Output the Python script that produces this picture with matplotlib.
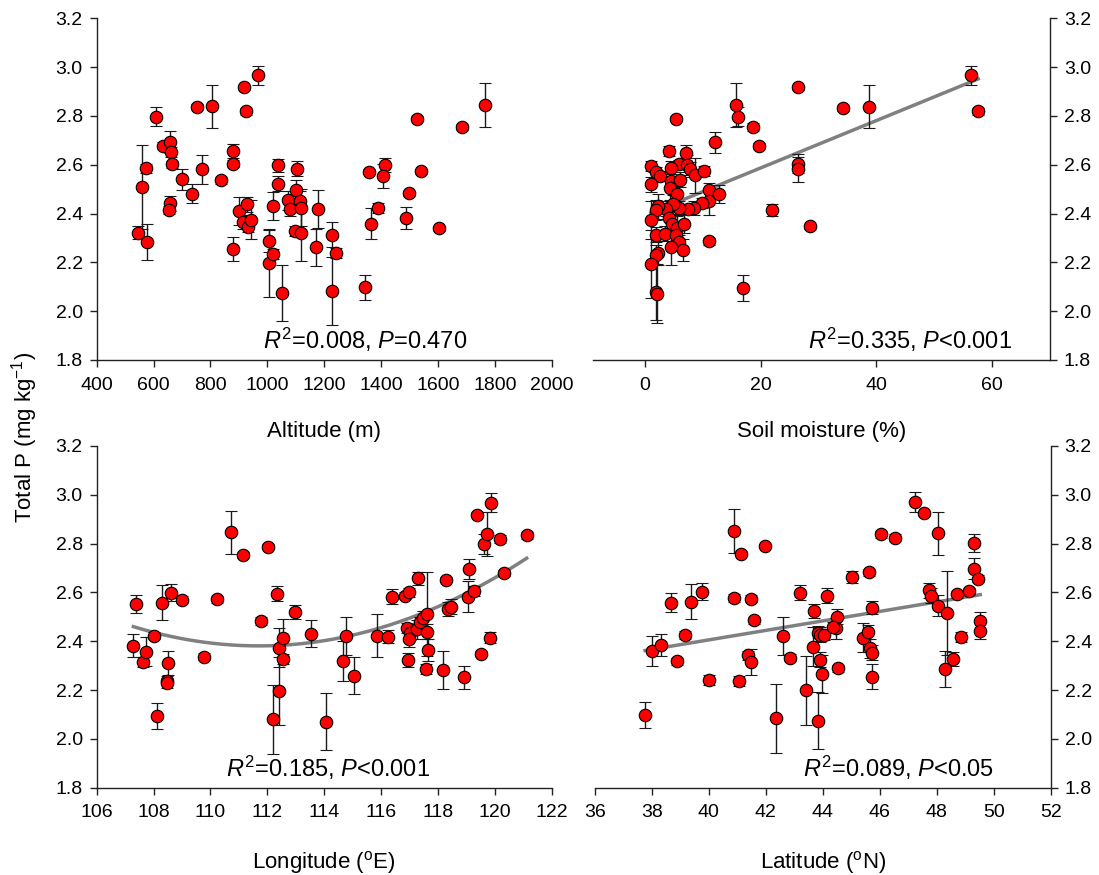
import numpy as np
import matplotlib
matplotlib.use('Agg')
import matplotlib.pyplot as plt

plt.rcParams['font.family'] = 'Liberation Sans'
plt.rcParams['mathtext.fontset'] = 'custom'
plt.rcParams['mathtext.rm'] = 'Liberation Sans'
plt.rcParams['mathtext.it'] = 'Liberation Sans:italic'
plt.rcParams['mathtext.bf'] = 'Liberation Sans:bold'

# Altitude (m) vs total P, mean +/- SE
altitude = [546, 558, 573, 578, 609, 634, 657, 661, 663, 658, 655, 699, 736, 751, 772,
            807, 838, 880, 880, 880, 917, 925, 967, 901, 913, 927, 933, 944, 1007, 1007,
            1021, 1021, 1038, 1038, 1050, 1074, 1080, 1103, 1100, 1115, 1097, 1118, 1120,
            1177, 1171, 1228, 1241, 1228, 1345, 1366, 1357, 1388, 1413, 1405, 1497, 1487,
            1528, 1542, 1604, 1685, 1767]
tp_alt = [2.322, 2.509, 2.585, 2.283, 2.797, 2.678, 2.693, 2.652, 2.601, 2.442, 2.415,
          2.540, 2.482, 2.835, 2.582, 2.839, 2.536, 2.656, 2.604, 2.254, 2.918, 2.819,
          2.966, 2.411, 2.366, 2.438, 2.346, 2.374, 2.288, 2.196, 2.431, 2.233, 2.597,
          2.522, 2.073, 2.454, 2.420, 2.584, 2.497, 2.452, 2.329, 2.322, 2.424, 2.418,
          2.261, 2.314, 2.238, 2.082, 2.097, 2.359, 2.571, 2.422, 2.599, 2.554, 2.483,
          2.382, 2.788, 2.573, 2.340, 2.755, 2.846]
se_alt = [0.027, 0.173, 0.02, 0.075, 0.039, 0.015, 0.045, 0.02, 0.015, 0.03, 0.015, 0.044,
          0.038, 0.012, 0.059, 0.088, 0.013, 0.03, 0.015, 0.048, 0.01, 0.015, 0.04, 0.058,
          0.03, 0.03, 0.02, 0.08, 0.045, 0.14, 0.056, 0.02, 0.025, 0.03, 0.115, 0.04, 0.03,
          0.03, 0.04, 0.04, 0.02, 0.115, 0.077, 0.078, 0.076, 0.053, 0.02, 0.14, 0.052,
          0.063, 0.01, 0.02, 0.03, 0.05, 0.01, 0.045, 0.01, 0.01, 0.01, 0.012, 0.09]

# Soil moisture (%)
moisture = [1.04, 1.9, 2.6, 1.04, 4.2, 5.3, 7.0, 5.9, 7.3, 4.4, 7.7, 8.6, 10.1, 4.4, 6.0,
            4.3, 5.5, 11.1, 11.1, 12.7, 9.9, 8.5, 7.5, 5.8, 4.9, 3.6, 2.3, 1.9, 0.98, 4.2,
            4.6, 5.5, 6.7, 1.9, 3.5, 5.3, 5.9, 4.5, 6.6, 2.3, 1.9, 1.04, 1.9, 2.0, 11.1,
            12.05, 15.8, 16.0, 18.7, 19.7, 22.0, 16.9, 26.5, 26.5, 26.5, 28.5, 34.2, 38.7,
            56.3, 57.6]
tp_sm = [2.596, 2.571, 2.554, 2.520, 2.656, 2.788, 2.650, 2.601, 2.599, 2.585, 2.581,
         2.556, 2.573, 2.533, 2.539, 2.505, 2.482, 2.497, 2.450, 2.480, 2.442, 2.422,
         2.420, 2.422, 2.438, 2.420, 2.429, 2.415, 2.373, 2.381, 2.356, 2.339, 2.359,
         2.313, 2.318, 2.313, 2.284, 2.261, 2.252, 2.238, 2.230, 2.193, 2.078, 2.072,
         2.286, 2.692, 2.845, 2.797, 2.755, 2.678, 2.415, 2.095, 2.917, 2.605, 2.581,
         2.347, 2.833, 2.838, 2.966, 2.819]
se_sm = [0.02, 0.02, 0.02, 0.03, 0.02, 0.01, 0.03, 0.02, 0.04, 0.03, 0.03, 0.07, 0.02,
         0.03, 0.03, 0.05, 0.04, 0.03, 0.055, 0.035, 0.02, 0.03, 0.02, 0.03, 0.04, 0.03,
         0.05, 0.04, 0.078, 0.04, 0.05, 0.05, 0.04, 0.03, 0.03, 0.05, 0.03, 0.07, 0.045,
         0.05, 0.04, 0.14, 0.115, 0.12, 0.015, 0.044, 0.09, 0.04, 0.015, 0.012, 0.025,
         0.052, 0.01, 0.04, 0.05, 0.01, 0.012, 0.088, 0.04, 0.015]

# Longitude (oE)
longitude = [107.29, 107.38, 107.64, 107.72, 108.02, 108.13, 108.31, 108.50, 108.48,
             108.48, 108.62, 108.99, 109.77, 110.22, 110.73, 111.16, 111.78, 112.01,
             112.35, 112.21, 112.41, 112.41, 112.54, 112.56, 112.99, 113.52, 114.08,
             114.65, 114.76, 115.06, 115.86, 116.25, 116.39, 116.84, 116.98, 117.30,
             116.90, 117.01, 116.99, 116.95, 117.27, 117.36, 117.48, 117.62, 117.60,
             117.66, 117.59, 118.17, 118.27, 118.36, 118.45, 118.93, 119.09, 119.05,
             119.26, 119.37, 119.51, 119.62, 119.73, 119.86, 119.82, 120.19, 120.32, 121.12]
tp_lon = [2.382, 2.554, 2.314, 2.357, 2.423, 2.094, 2.558, 2.312, 2.239, 2.230, 2.598,
          2.570, 2.337, 2.572, 2.846, 2.755, 2.483, 2.788, 2.595, 2.080, 2.195, 2.374,
          2.415, 2.327, 2.520, 2.430, 2.070, 2.319, 2.423, 2.259, 2.423, 2.419, 2.583,
          2.587, 2.600, 2.658, 2.453, 2.435, 2.408, 2.323, 2.449, 2.480, 2.494, 2.510,
          2.439, 2.364, 2.286, 2.282, 2.652, 2.532, 2.542, 2.252, 2.695, 2.583, 2.606,
          2.919, 2.348, 2.799, 2.840, 2.968, 2.415, 2.819, 2.678, 2.834]
se_lon = [0.046, 0.037, 0.02, 0.06, 0.015, 0.052, 0.072, 0.05, 0.02, 0.02, 0.035, 0.015,
          0.015, 0.015, 0.089, 0.012, 0.015, 0.01, 0.03, 0.14, 0.14, 0.08, 0.076, 0.02,
          0.027, 0.055, 0.116, 0.08, 0.078, 0.076, 0.089, 0.025, 0.03, 0.015, 0.02, 0.027,
          0.02, 0.03, 0.03, 0.027, 0.04, 0.02, 0.03, 0.172, 0.03, 0.045, 0.02, 0.078, 0.01,
          0.03, 0.03, 0.048, 0.042, 0.062, 0.02, 0.01, 0.01, 0.04, 0.089, 0.04, 0.022,
          0.015, 0.012, 0.015]

# Latitude (oN)
latitude = [37.77, 38.02, 38.32, 38.68, 38.90, 39.17, 39.39, 39.75, 40.02, 40.89, 41.13,
            40.90, 41.06, 41.38, 41.47, 41.47, 41.59, 41.98, 42.60, 42.36, 42.84, 43.19,
            43.42, 43.70, 43.66, 43.82, 43.90, 44.06, 43.82, 43.91, 43.98, 44.14, 44.49,
            44.46, 44.55, 44.37, 45.04, 45.40, 45.58, 45.61, 45.66, 45.72, 45.74, 45.74,
            46.03, 46.55, 47.25, 47.55, 47.72, 47.79, 48.06, 48.06, 48.37, 48.30, 48.57,
            48.71, 48.84, 49.12, 49.31, 49.30, 49.45, 49.53, 49.53]
tp_lat = [2.097, 2.361, 2.386, 2.558, 2.318, 2.426, 2.562, 2.602, 2.241, 2.851, 2.759,
          2.577, 2.237, 2.342, 2.316, 2.575, 2.486, 2.790, 2.420, 2.084, 2.333, 2.599,
          2.199, 2.524, 2.378, 2.432, 2.427, 2.427, 2.075, 2.325, 2.264, 2.587, 2.501,
          2.453, 2.289, 2.460, 2.662, 2.415, 2.438, 2.682, 2.371, 2.353, 2.255, 2.538,
          2.838, 2.825, 2.971, 2.924, 2.609, 2.587, 2.842, 2.546, 2.514, 2.286, 2.327,
          2.592, 2.417, 2.605, 2.803, 2.698, 2.657, 2.484, 2.443]
se_lat = [0.052, 0.062, 0.045, 0.038, 0.015, 0.015, 0.072, 0.035, 0.02, 0.089, 0.01,
          0.015, 0.02, 0.02, 0.053, 0.015, 0.015, 0.01, 0.078, 0.14, 0.015, 0.03, 0.141,
          0.028, 0.08, 0.03, 0.03, 0.02, 0.116, 0.03, 0.078, 0.03, 0.03, 0.043, 0.015,
          0.02, 0.025, 0.06, 0.03, 0.015, 0.04, 0.03, 0.05, 0.025, 0.015, 0.015, 0.04,
          0.01, 0.03, 0.03, 0.089, 0.044, 0.172, 0.075, 0.027, 0.015, 0.022, 0.015, 0.037,
          0.045, 0.015, 0.035, 0.035]

# fitted curves (np.polyval coefficients, highest power first)
fit_sm = [0.0097, 2.393]
fit_lon = [0.004052, -0.90525, 52.941]
fit_lat = [0.01946, 1.627]

stats_alt = r'$R^2$=0.008, $P$=0.470'
stats_sm = r'$R^2$=0.335, $P$<0.001'
stats_lon = r'$R^2$=0.185, $P$<0.001'
stats_lat = r'$R^2$=0.089, $P$<0.05'

yticks = [1.8, 2.0, 2.2, 2.4, 2.6, 2.8, 3.0, 3.2]

fig = plt.figure(figsize=(10.99, 8.75), dpi=100)
ax1 = fig.add_axes([0.088, 0.5886, 0.414, 0.3905])
ax2 = fig.add_axes([0.5396, 0.5886, 0.4158, 0.3905])
ax3 = fig.add_axes([0.088, 0.0998, 0.414, 0.3905])
ax4 = fig.add_axes([0.5411, 0.0998, 0.4149, 0.3905])


def draw_panel(ax, x, y, err, fit, stats, stats_x, xlim, xticks, xlabel, right=False):
    ax.errorbar(x, y, yerr=err, fmt='o', ms=9, mfc='#ff0000', mec='black', mew=0.8,
                ecolor='#1a1a1a', elinewidth=1, capsize=4, capthick=1, zorder=3)
    if fit is not None:
        xs = np.linspace(min(x), max(x), 200)
        ax.plot(xs, np.polyval(fit, xs), color='#808080', lw=2.5, zorder=2)

    ax.set_xlim(*xlim)
    ax.set_ylim(1.8, 3.2)
    ax.set_xticks(xticks)
    ax.set_yticks(yticks)
    ax.set_yticklabels([f'{v:.1f}' for v in yticks])

    ax.spines['top'].set_visible(False)
    if right:
        ax.spines['left'].set_visible(False)
        ax.yaxis.tick_right()
    else:
        ax.spines['right'].set_visible(False)
    for s in ax.spines.values():
        s.set_color('#222222')
        s.set_linewidth(1)

    ax.tick_params(axis='both', direction='out', length=5, width=1,
                   color='#222222', labelsize=14)
    ax.tick_params(axis='x', pad=7)
    ax.tick_params(axis='y', pad=5)
    ax.set_xlabel(xlabel, fontsize=16, labelpad=20)

    ax.text(stats_x, 0.032, stats, transform=ax.transAxes, ha='center',
            va='baseline', fontsize=17)


draw_panel(ax1, altitude, tp_alt, se_alt, None, stats_alt, 0.59,
           (400, 2000), range(400, 2001, 200), 'Altitude (m)')
draw_panel(ax2, moisture, tp_sm, se_sm, fit_sm, stats_sm, 0.694,
           (-9, 70), [0, 20, 40, 60], 'Soil moisture (%)', right=True)
draw_panel(ax3, longitude, tp_lon, se_lon, fit_lon, stats_lon, 0.508,
           (106, 122), range(106, 123, 2), r'Longitude ($^{\mathregular{o}}$E)')
draw_panel(ax4, latitude, tp_lat, se_lat, fit_lat, stats_lat, 0.667,
           (36, 52), range(36, 53, 2), r'Latitude ($^{\mathregular{o}}$N)', right=True)

fig.text(0.022, 0.5, r'Total P (mg kg$^{-1}$)', rotation=90, ha='center',
         va='center', fontsize=16)

fig.savefig('out.png', dpi=100)
